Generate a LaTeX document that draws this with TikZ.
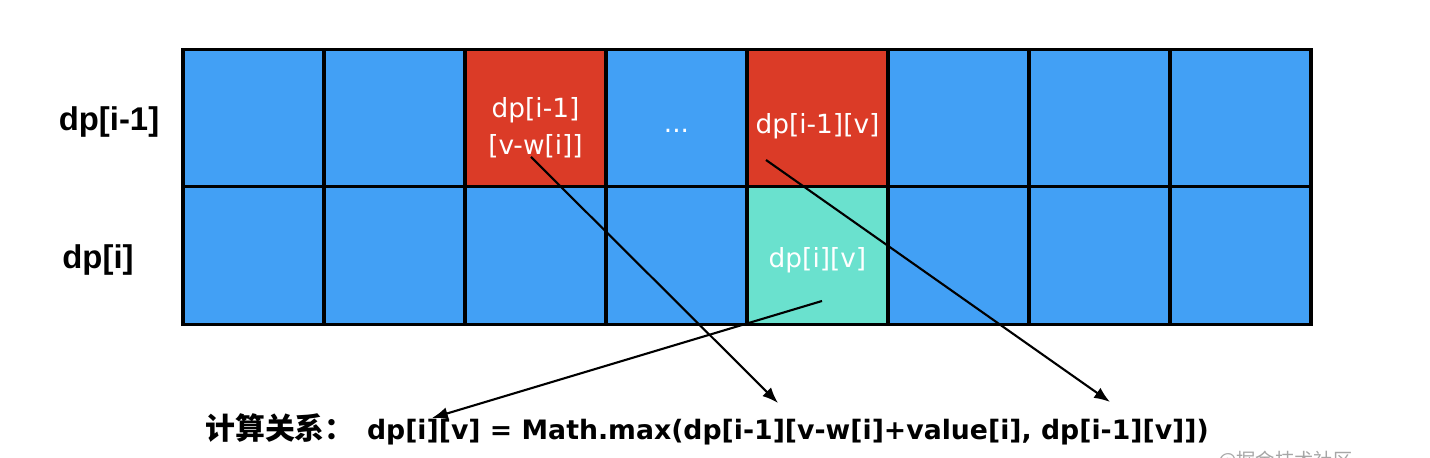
\documentclass[tikz,border=0pt]{standalone}
\usepackage{fontspec}
\setmainfont{DejaVu Sans}
\newfontfamily\labelfont{Liberation Sans}
\newfontfamily\cjk{Noto Sans CJK SC}
\usetikzlibrary{arrows.meta}
\definecolor{cellblue}{RGB}{66,160,245}
\definecolor{cellred}{RGB}{219,59,39}
\definecolor{cellteal}{RGB}{106,225,206}
\begin{document}
\begin{tikzpicture}
		[cell/.style={rectangle,draw=black,line width=1.8pt,fill=cellblue,minimum width=2.82cm,minimum height=2.75cm,inner sep=0pt,outer sep=0pt},
		celltext/.style={text=white,font=\fontsize{15}{21}\selectfont,align=center,inner sep=0pt},
		rowlabel/.style={font=\labelfont\bfseries\fontsize{18.7}{22}\selectfont},
		>={Latex[length=9pt,width=7pt]}]
		\useasboundingbox (0,0) rectangle (28.6,9.16);
		% row dp[i-1]
		\node[cell,name=a1]at(5.07,6.8){};
		\node[cell,name=a2]at(7.89,6.8){};
		\node[cell,name=a3,fill=cellred,label={[celltext,yshift=-0.19cm]center:dp[i-1]\\{[v-w[i]]}}]at(10.71,6.8){};
		\node[cell,name=a4,label={[celltext,yshift=-0.26cm]center:...}]at(13.53,6.8){};
		\node[cell,name=a5,fill=cellred,label={[celltext,yshift=-0.17cm]center:dp[i-1][v]}]at(16.35,6.8){};
		\node[cell,name=a6]at(19.17,6.8){};
		\node[cell,name=a7]at(21.99,6.8){};
		\node[cell,name=a8]at(24.81,6.8){};
		% row dp[i]
		\node[cell,name=b1]at(5.07,4.05){};
		\node[cell,name=b2]at(7.89,4.05){};
		\node[cell,name=b3]at(10.71,4.05){};
		\node[cell,name=b4]at(13.53,4.05){};
		\node[cell,name=b5,fill=cellteal,label={[celltext,yshift=-0.1cm]center:dp[i][v]}]at(16.35,4.05){};
		\node[cell,name=b6]at(19.17,4.05){};
		\node[cell,name=b7]at(21.99,4.05){};
		\node[cell,name=b8]at(24.81,4.05){};
		\node[rowlabel,name=la]at(2.18,6.72){dp[i-1]};
		\node[rowlabel,name=lb]at(1.96,3.96){dp[i]};
		% formula
		\node[anchor=base west,inner sep=0pt,name=eq,font=\bfseries\fontsize{15.2}{18}\selectfont]at(4.1,0.36)
			{{\cjk\fontsize{17}{18}\selectfont 计算关系：}\hspace{7pt}dp[i][v] = Math.max(dp[i-1][v-w[i]+value[i], dp[i-1][v]])};
		\node[anchor=west,inner sep=0pt,text=black!35,font=\cjk\fontsize{11}{12}\selectfont,name=wm]at(24.36,-0.06){@掘金技术社区};
		\coordinate (s1) at (10.62,6.02);
		\coordinate (s2) at (15.32,5.96);
		\coordinate (s3) at (16.44,3.14);
		\coordinate (t1) at (15.56,1.10);
		\coordinate (t2) at (22.2,1.12);
		\coordinate (t3) at (8.64,0.80);
		\draw[->,line width=1.2pt] (s1)--(t1);
		\draw[->,line width=1.2pt] (s2)--(t2);
		\draw[->,line width=1.2pt] (s3)--(t3);
	\end{tikzpicture}
\end{document}
